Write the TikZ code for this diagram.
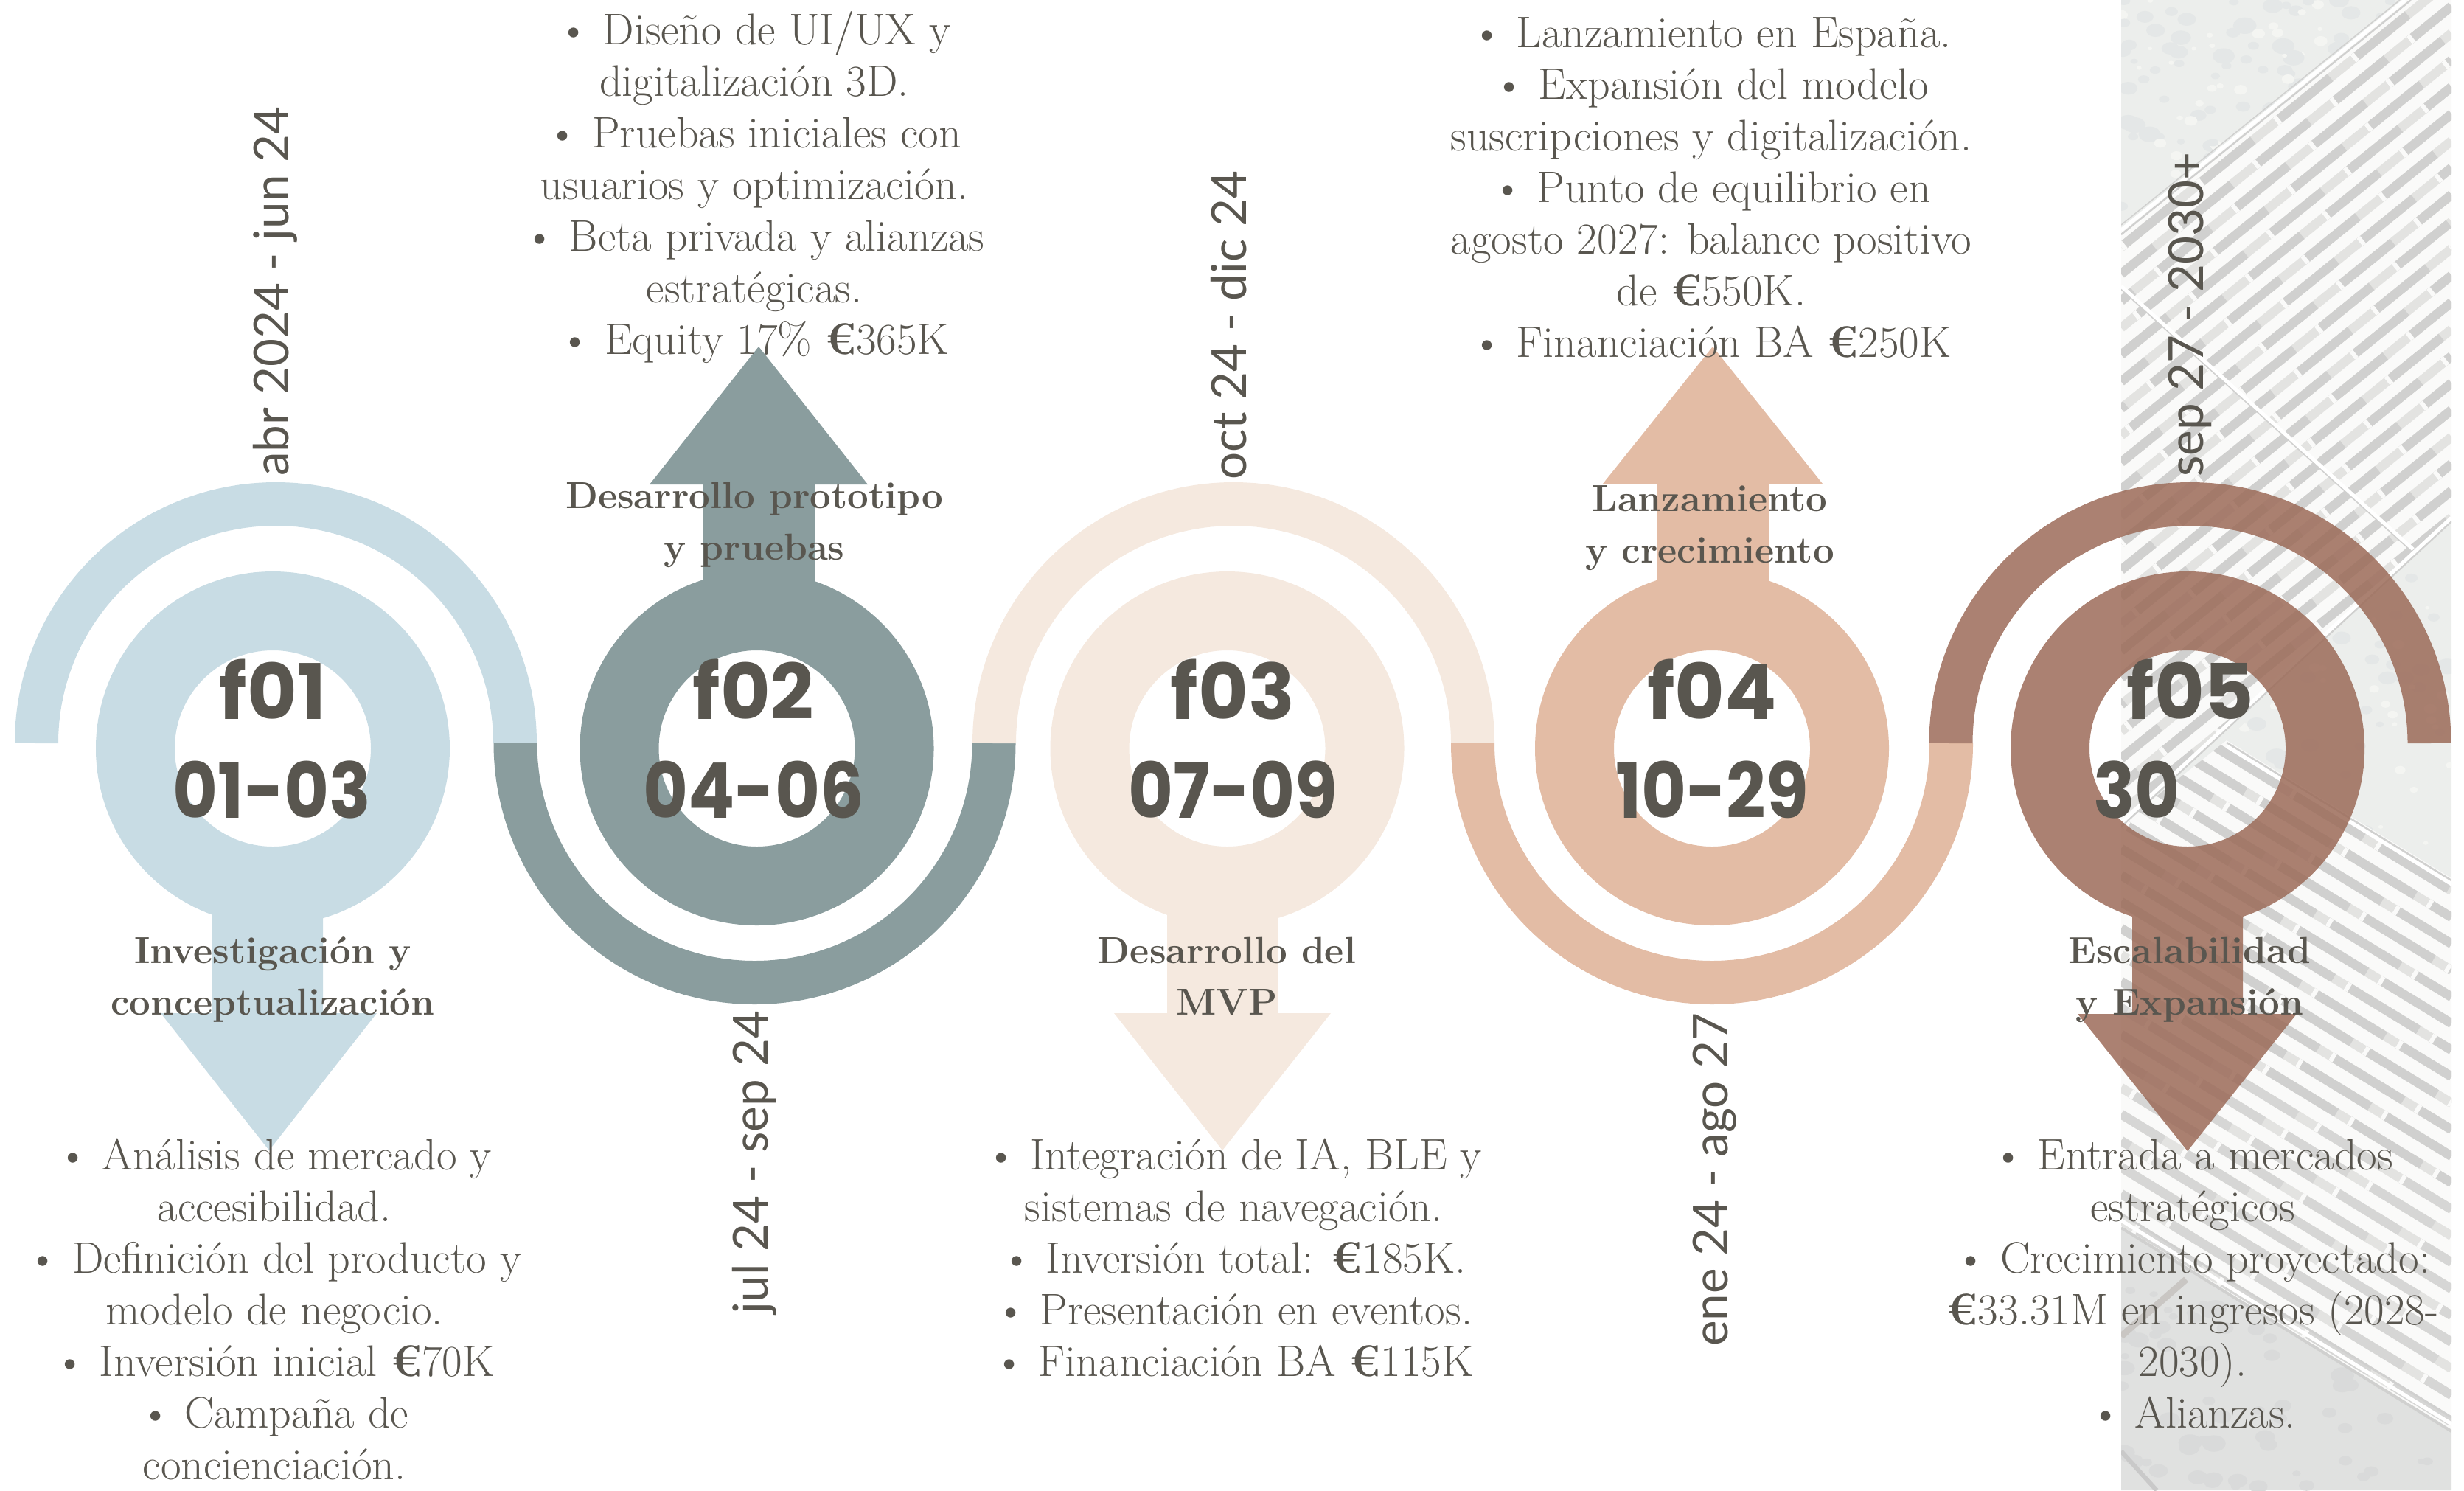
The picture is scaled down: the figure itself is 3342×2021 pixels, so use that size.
\documentclass[tikz,border=0pt]{standalone}
\usepackage{fontspec}
\newfontfamily\bigfont[FakeStretch=0.9]{Poppins}
\newfontfamily\bigfontw{Poppins}
\newfontfamily\datefont{Lato}
\definecolor{cblue}{HTML}{C8DCE4}
\definecolor{cslate}{HTML}{8A9D9E}
\definecolor{ccream}{HTML}{F5E9DF}
\definecolor{cpeach}{HTML}{E3BCA5}
\definecolor{cbrown}{HTML}{9C6B59}
\definecolor{ctext}{HTML}{59564F}
\definecolor{gTop}{HTML}{ECEEEC}
\definecolor{gLow}{HTML}{E0E1E0}
\definecolor{gBar}{HTML}{FAFAF9}
\definecolor{gGap}{HTML}{E3E3E1}
\definecolor{gDark}{HTML}{D0D0CF}
\definecolor{spA}{HTML}{E4E7E7}
\definecolor{spB}{HTML}{F4F5F2}
\definecolor{spC}{HTML}{D9DADA}
\definecolor{gMid}{HTML}{D6D6D5}
\definecolor{gBrn}{HTML}{C9C6C3}
\definecolor{gEdge}{HTML}{C9C9C9}
\newcommand{\eur}{{\bfseries €}}
\newcommand{\fl}{\rule{0pt}{50pt}}
\tikzset{
  bodytxt/.style={anchor=north,inner sep=0pt,align=center,text=ctext,font=\fontsize{60}{70}\selectfont},
  headtxt/.style={anchor=north,inner sep=0pt,align=center,text=ctext,font=\fontsize{51}{70}\selectfont\bfseries},
  bigtxt/.style={anchor=base,inner sep=0pt,text=ctext,font=\fontsize{104}{110}\selectfont\bigfont\bfseries},
  bigtxtw/.style={anchor=base,inner sep=0pt,text=ctext,font=\fontsize{104}{110}\selectfont\bigfontw\bfseries},
  datetxt/.style={anchor=base west,rotate=90,inner sep=0pt,text=ctext,font=\fontsize{65.5}{70}\selectfont\datefont},
  band/.style={line width=59pt,line cap=butt},
  gapbase/.style={line width=12.5pt,gGap},
  gapdark/.style={line width=12.5pt,gDark},
  gaptie/.style={line width=12.5pt,gBar,dash pattern=on 6pt off 129pt},
  seamw/.style={line width=5pt,white},
  seamg/.style={line width=2.5pt,gDark}
}
\begin{document}
\begin{tikzpicture}[x=1pt,y=1pt]
\useasboundingbox (0,0) rectangle (3342,-2021);
% ---------- photographic panel
\begin{scope}
\clip (2877,0) rectangle (3325,-2021);
\fill[gTop] (2877,0) rectangle (3325,-2021);
\pgfmathsetseed{11}
\foreach \i in {1,...,170}{
  \pgfmathsetmacro{\px}{2877+400*rnd}
  \pgfmathsetmacro{\py}{320*rnd}
  \pgfmathsetmacro{\pr}{5+11*rnd}
  \pgfmathsetmacro{\ps}{rnd}
  \ifdim\ps pt<0.55pt
    \fill[spA] (\px,-\py) ellipse[x radius=\pr,y radius=\pr*0.7];
  \else
    \fill[spB] (\px,-\py) ellipse[x radius=\pr*0.6,y radius=\pr*0.45];
  \fi
}
% upper grating
\begin{scope}
\clip (2877,-310) -- (3260,0) -- (3400,0) -- (3400,-633) -- (2877,-1118) -- cycle;
\fill[gBar] (2877,-300) -- (3260,0) -- (3400,0) -- (3400,-633) -- (2877,-1118) -- cycle;
\foreach \k in {0,...,24}{
  \pgfmathsetmacro{\ya}{335+36.5*\k}
  \pgfmathsetmacro{\yb}{\ya-363}
  \pgfmathsetmacro{\ph}{mod(\k*37,135)}
  \draw[gapbase] (2877,-\ya) -- (3325,-\yb);
  \draw[gapdark,dash pattern=on 95pt off 40pt,dash phase=\ph pt] (2877,-\ya) -- (3325,-\yb);
  \draw[gaptie,dash phase=\ph pt] (2877,-\ya) -- (3325,-\yb);
}
\end{scope}
\draw[seamg] (2877,-318) -- (3270,0);
\draw[seamw] (2877,-312) -- (3262,0);
\draw[gDark,line width=1.5pt] (2877,-305) -- (3255,0);
\draw[seamg] (2877,-392) -- (3273,-749);
\draw[seamw] (2877,-388) -- (3273,-745);
% right granite triangle
\begin{scope}
\clip (3400,-633) -- (3020,-1004) -- (3400,-1237) -- cycle;
\fill[gTop] (3400,-633) -- (3020,-1004) -- (3400,-1237) -- cycle;
\pgfmathsetseed{5}
\foreach \i in {1,...,90}{
  \pgfmathsetmacro{\px}{3020+305*rnd}
  \pgfmathsetmacro{\py}{700+490*rnd}
  \pgfmathsetmacro{\pr}{5+11*rnd}
  \pgfmathsetmacro{\ps}{rnd}
  \ifdim\ps pt<0.55pt
    \fill[spA] (\px,-\py) ellipse[x radius=\pr,y radius=\pr*0.7];
  \else
    \fill[spB] (\px,-\py) ellipse[x radius=\pr*0.6,y radius=\pr*0.45];
  \fi
}
\end{scope}
% lower grating
\begin{scope}
\clip (2877,-1118) -- (3020,-1004) -- (3400,-1237) -- (3400,-1987) -- (2877,-1665) -- cycle;
\fill[gBar] (2877,-1118) -- (3020,-1004) -- (3400,-1237) -- (3400,-1987) -- (2877,-1665) -- cycle;
\foreach \k in {0,...,21}{
  \pgfmathsetmacro{\ya}{935+36*\k}
  \pgfmathsetmacro{\yb}{\ya+273}
  \pgfmathsetmacro{\ph}{mod(\k*53,135)}
  \pgfmathtruncatemacro{\shade}{\k>11 ? 1 : 0}
  \draw[gapbase] (2877,-\ya) -- (3325,-\yb);
  \ifnum\shade=1
    \draw[gapdark,gMid,dash pattern=on 105pt off 30pt,dash phase=\ph pt] (2877,-\ya) -- (3325,-\yb);
  \else
    \draw[gapdark,dash pattern=on 115pt off 20pt,dash phase=\ph pt] (2877,-\ya) -- (3325,-\yb);
  \fi
  \draw[gaptie,dash phase=\ph pt] (2877,-\ya) -- (3325,-\yb);
}
\end{scope}
\draw[seamg] (2877,-1121) -- (3325,-707);
\draw[seamw] (2877,-1116) -- (3325,-702);
\draw[seamg] (3020,-1007) -- (3325,-1194);
\draw[seamw] (3020,-1012) -- (3325,-1199);
% lower granite
\fill[gLow] (2877,-1665) -- (3325,-1941) -- (3325,-2021) -- (2877,-2021) -- cycle;
\pgfmathsetseed{23}
\foreach \i in {1,...,110}{
  \pgfmathsetmacro{\px}{2877+448*rnd}
  \pgfmathsetmacro{\py}{1680+341*rnd}
  \pgfmathsetmacro{\pr}{5+11*rnd}
  \pgfmathsetmacro{\pytop}{1680+(\px-2877)*0.616}
  \ifdim\py pt>\pytop pt
    \fill[spC] (\px,-\py) ellipse[x radius=\pr,y radius=\pr*0.7];
  \fi
}
\draw[gDark,line width=4pt] (2877,-1665) -- (3325,-1941);
\draw[white,line width=5pt] (2877,-1655) -- (3325,-1931);
\draw[gDark,line width=3pt] (2877,-1646) -- (3325,-1922);
\draw[gBrn,line width=9pt] (2877,-1812) -- (2965,-1735);
\draw[gEdge,line width=6pt] (2877,-1968) -- (2925,-2021);
\end{scope}
% ---------- bands
\draw[band,cblue]  (49.5,-1008) arc (180:0:324.5);
\draw[band,cslate] (699,-1008) arc (180:360:324.5);
\draw[band,ccream] (1348.5,-1008) arc (180:0:324.5);
\draw[band,cpeach] (1997.5,-1008) arc (180:360:324.5);
\draw[band,cbrown,opacity=0.85] (2646,-1008) arc (180:0:324.5);
% ---------- rings with arrows
\fill[cblue,even odd rule] (370,-1015) circle[radius=240] (370,-1015) circle[radius=133];
\fill[cblue] (288,-1235) -- (438,-1235) -- (438,-1374) -- (511,-1374) -- (365,-1560) -- (218,-1374) -- (288,-1374) -- cycle;
\fill[cslate,even odd rule] (1026.5,-1015) circle[radius=240] (1026.5,-1015) circle[radius=133];
\fill[cslate] (953,-800) -- (1105,-800) -- (1105,-657) -- (1177,-657) -- (1029,-470) -- (881,-657) -- (953,-657) -- cycle;
\fill[ccream,even odd rule] (1664.5,-1015) circle[radius=240] (1664.5,-1015) circle[radius=133];
\fill[ccream] (1583,-1235) -- (1733,-1235) -- (1733,-1374) -- (1805,-1374) -- (1658,-1560) -- (1511,-1374) -- (1583,-1374) -- cycle;
\fill[cpeach,even odd rule] (2322,-1015) circle[radius=240] (2322,-1015) circle[radius=133];
\fill[cpeach] (2247,-800) -- (2399,-800) -- (2399,-656) -- (2472,-656) -- (2323,-470) -- (2174,-656) -- (2247,-656) -- cycle;
\fill[cbrown,opacity=0.85,even odd rule]
  (3042,-1243) arc (288.2:611.8:240) -- (2892,-1375) -- (2818,-1375) -- (2967,-1561) -- (3115,-1375) -- (3042,-1375) -- cycle
  (2967,-1015) circle[radius=133];
% ---------- big labels
\node[bigtxtw] (a1) at (370,-975) {f01};
\node[bigtxt] (b1) at (369,-1109) {01-03};
\node[bigtxtw] (a2) at (1022,-975) {f02};
\node[bigtxt] (b2) at (1022,-1109) {04-06};
\node[bigtxtw] (a3) at (1672,-975) {f03};
\node[bigtxt] (b3) at (1672,-1109) {07-09};
\node[bigtxtw] (a4) at (2322,-975) {f04};
\node[bigtxt] (b4) at (2322,-1109) {10-29};
\node[bigtxtw] (a5) at (2971,-975) {f05};
\node[bigtxt] (b5) at (2898,-1109) {30};
% ---------- dates
\node[datetxt] (d1) at (391,-646) {abr 2024 - jun 24};
\node[datetxt] (d2) at (1041,-1782) {jul 24 - sep 24};
\node[datetxt] (d3) at (1690,-651) {oct 24 - dic 24};
\node[datetxt] (d4) at (2343,-1826) {ene 24 - ago 27};
\node[datetxt] (d5) at (2988,-647) {sep 27 - 2030+};
% ---------- headings
\node[headtxt] (h1) at (370,-1256) {\fl Investigación y\\conceptualización};
\node[headtxt] (h2) at (1023,-639) {\fl Desarrollo prototipo\\y pruebas};
\node[headtxt] (h3) at (1664,-1256) {\fl Desarrollo del\\MVP};
\node[headtxt] (h4) at (2319,-643) {\fl Lanzamiento\\y crecimiento};
\node[headtxt] (h5) at (2970,-1256) {\fl Escalabilidad\\y Expansión};
% ---------- body texts
\node[bodytxt] (t1) at (372,-1536) {\fl •~Análisis de mercado y\\accesibilidad.\\•~Definición del producto y\\modelo de negocio.\\•~Inversión inicial \eur70K\\•~Campaña de\\concienciación.};
\node[bodytxt] (t2) at (1023,-10) {\fl •~Diseño de UI/UX y\\digitalización 3D.\\•~Pruebas iniciales con\\usuarios y optimización.\\•~Beta privada y alianzas\\estratégicas.\\•~Equity 17\% \eur365K};
\node[bodytxt] (t3) at (1673,-1536) {\fl •~Integración de IA, BLE y\\sistemas de navegación.\\•~Inversión total: \eur185K.\\•~Presentación en eventos.\\•~Financiación BA \eur115K};
\node[bodytxt] (t4) at (2321,-14) {\fl •~Lanzamiento en España.\\•~Expansión del modelo\\suscripciones y digitalización.\\•~Punto de equilibrio en\\agosto 2027: balance positivo\\de \eur550K.\\•~Financiación BA \eur250K};
\node[bodytxt] (t5) at (2974,-1536) {\fl •~Entrada a mercados\\estratégicos\\•~Crecimiento proyectado:\\\eur33.31M en ingresos (2028-\\2030).\\•~Alianzas.};
\end{tikzpicture}
\end{document}
